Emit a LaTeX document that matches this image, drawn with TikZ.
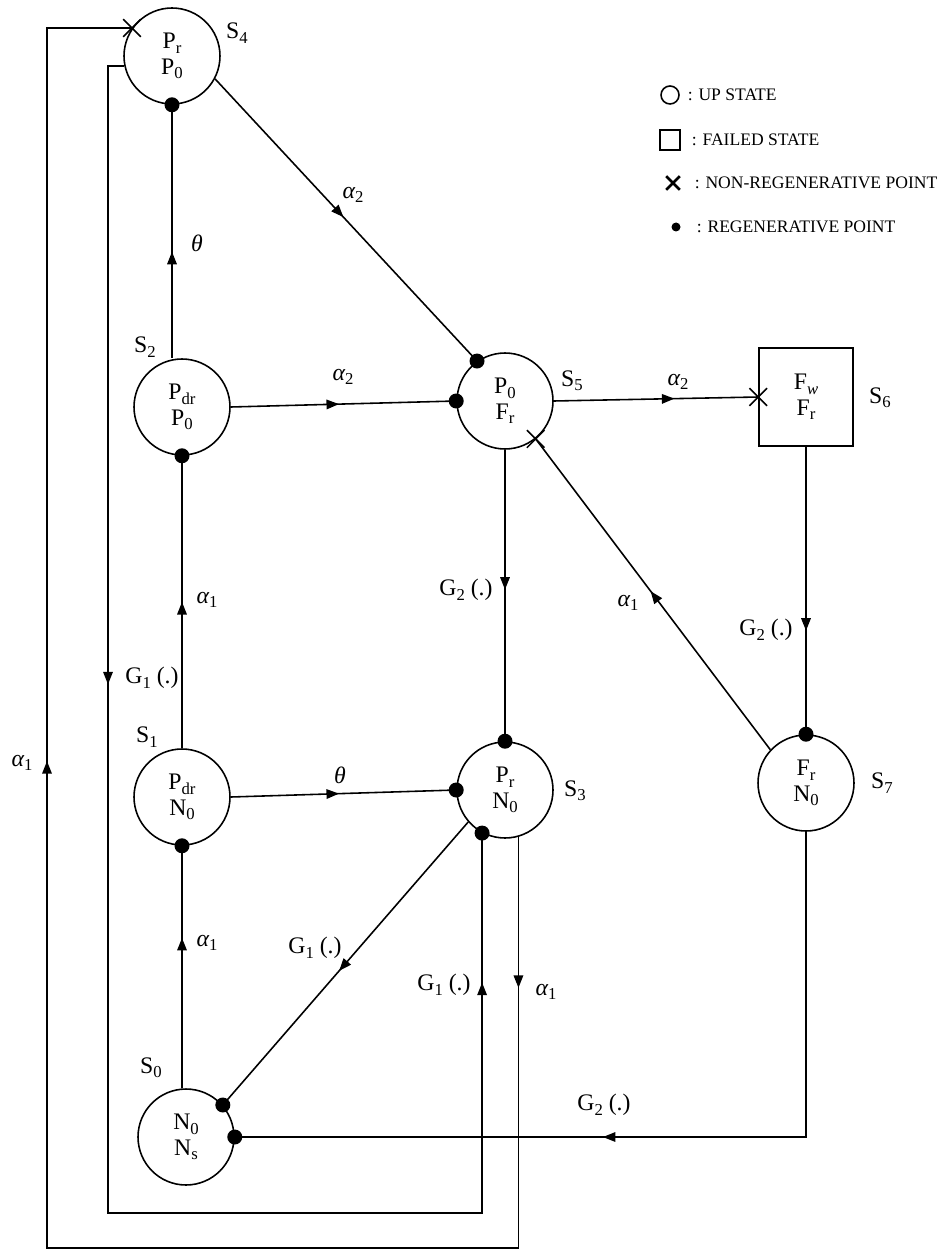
\documentclass[tikz,border=0pt]{standalone}
\usepackage{fontspec}
\setmainfont{Liberation Serif}
\usetikzlibrary{arrows.meta,decorations.markings,shapes.misc}
\newcommand\sbs[1]{\raisebox{-0.4ex}{\fontsize{9.5}{9.5}\selectfont #1}}
\newcommand\myal[1]{{\itshape α}\sbs{#1}}
\newcommand\myth{{\itshape θ}}
\begin{document}
\begin{tikzpicture}[x=0.02cm,y=-0.02cm, line width=0.9pt,
  every node/.style={font=\fontsize{13.5}{14.5}\selectfont},
  st/.style={circle,draw,minimum size=1.92cm,inner sep=0pt,align=center},
  fs/.style={rectangle,draw,minimum width=1.88cm,minimum height=1.96cm,inner sep=0pt,align=center},
  dot/.style={circle,fill,inner sep=0pt,minimum size=0.3cm,draw=none},
  xm/.style={cross out,draw,inner sep=0pt,minimum size=0.32cm},
  leg/.style={anchor=west,inner sep=0pt,font=\fontsize{10}{12}\selectfont},
  arrowat/.style={postaction={decorate,decoration={markings,mark=at position #1 with {\arrow{Triangle[length=2.5mm,width=1.9mm]}}}}}
]
\useasboundingbox (0,0) rectangle (952,1256);

% states
\node[st] (S4) at (172,56) {P\sbs{r}\\P\sbs{0}};
\node[st] (S2) at (182,407) {P\sbs{dr}\\P\sbs{0}};
\node[st] (S5) at (505,401) {P\sbs{0}\\F\sbs{r}};
\node[fs] (S6) at (806,397) {F\sbs{\textit{w}}\\F\sbs{r}};
\node[st] (S3) at (505,790) {P\sbs{r}\\N\sbs{0}};
\node[st] (S1) at (182,797) {P\sbs{dr}\\N\sbs{0}};
\node[st] (S7) at (806,783) {F\sbs{r}\\N\sbs{0}};
\node[st] (S0) at (186,1137) {N\sbs{0}\\N\sbs{s}};

% state labels
\node (L4) at (237,33) {S\sbs{4}};
\node (L2) at (145,347) {S\sbs{2}};
\node (L5) at (572,381) {S\sbs{5}};
\node (L6) at (880,398) {S\sbs{6}};
\node (L3) at (575,791) {S\sbs{3}};
\node (L1) at (147,737) {S\sbs{1}};
\node (L7) at (882,783) {S\sbs{7}};
\node (L0) at (151,1068) {S\sbs{0}};

\coordinate (oBL) at (47,1248);
\coordinate (iBL) at (108,1213);

% transitions
\draw[arrowat=0.42] (S4.south |- S2.north) -- (S4.south);
\draw[arrowat=0.49] (S4.332) -- (S5.125);
\draw[arrowat=0.48] (S2.east) -- (S5.west);
\draw[arrowat=0.5] (S1.north) -- (S2.south);
\draw[arrowat=0.48] (S1.east) -- (S3.west);
\draw[arrowat=0.62] (S0.north -| S1.south) -- (S1.south);
\draw[arrowat=0.526] (S3.221) -- (S0.41);
\draw[arrowat=0.48] (S5.south) -- (S3.north);
\draw[arrowat=0.59] (S5.east) -- (S6.west);
\draw[arrowat=0.51] (S7.137) -- (S5.309);
\draw[arrowat=0.64] (S6.south) -- (S7.north);
\draw[arrowat=0.58] (S7.south) |- (S0.east);
\draw[arrowat=0.331, arrowat=0.922] (S4.192) -| (iBL) -| (S3.242);
\draw[arrowat=0.069, arrowat=0.626] (S3.286) |- (oBL) |- (S4.145);

% regenerative points
\node[dot] (d1) at (S4.south) {};
\node[dot] (d2) at (S2.south) {};
\node[dot] (d3) at (S5.125) {};
\node[dot] (d4) at (S5.west) {};
\node[dot] (d5) at (S3.north) {};
\node[dot] (d6) at (S3.west) {};
\node[dot] (d7) at (S3.242) {};
\node[dot] (d8) at (S1.south) {};
\node[dot] (d9) at (S7.north) {};
\node[dot] (d10) at (S0.41) {};
\node[dot] (d11) at (S0.east) {};

% non-regenerative points
\node[xm] (x1) at (S4.145) {};
\node[xm] (x2) at (S5.309) {};
\node[xm] (x3) at (S6.west) {};

% edge labels
\node (e1) at (197,243) {\myth};
\node (e2) at (353,195) {\myal{2}};
\node (e3) at (343,377) {\myal{2}};
\node (e4) at (207,600) {\myal{1}};
\node (e5) at (340,775) {\myth};
\node (e6) at (207,943) {\myal{1}};
\node (e7) at (315,948) {G\sbs{1} (.)};
\node (e8) at (466,590) {G\sbs{2} (.)};
\node (e9) at (678,382) {\myal{2}};
\node (e10) at (628,603) {\myal{1}};
\node (e11) at (766,630) {G\sbs{2} (.)};
\node (e12) at (604,1105) {G\sbs{2} (.)};
\node (e13) at (152,678) {G\sbs{1} (.)};
\node (e14) at (444,985) {G\sbs{1} (.)};
\node (e15) at (546,992) {\myal{1}};
\node (e16) at (22,763) {\myal{1}};

% legend
\node[circle,draw,minimum size=0.36cm,inner sep=0pt] (g1) at (670,95) {};
\node[leg] (t1) at (687,95) {: UP STATE};
\node[rectangle,draw,minimum size=0.4cm,inner sep=0pt] (g2) at (670,140) {};
\node[leg] (t2) at (691,140) {: FAILED STATE};
\node[cross out,draw,line width=1.5pt,minimum size=0.22cm,inner sep=0pt] (g3) at (673,183) {};
\node[leg] (t3) at (694,183) {: NON-REGENERATIVE POINT};
\node[dot,minimum size=0.18cm] (g4) at (676,227) {};
\node[leg] (t4) at (696,227) {: REGENERATIVE POINT};
\end{tikzpicture}
\end{document}
